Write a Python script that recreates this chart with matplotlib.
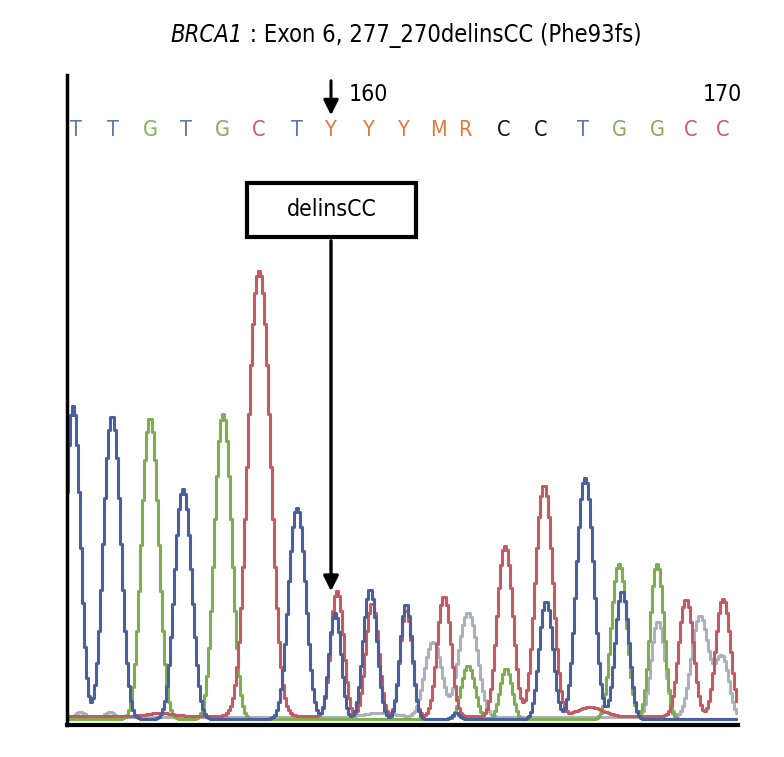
import numpy as np
import matplotlib.pyplot as plt
from matplotlib.patches import Rectangle

plt.rcParams['font.family'] = ['DejaVu Sans']
plt.rcParams['font.stretch'] = 'condensed'

# base calls shown above the trace, with their positions along the read
bases = ['T', 'T', 'G', 'T', 'G', 'C', 'T', 'Y', 'Y', 'Y', 'M', 'R', 'C', 'C', 'T', 'G', 'G', 'C', 'C']
base_pos = [76, 113, 150, 186, 222, 259, 297, 331, 369, 404, 438, 465, 504, 541, 583, 619, 657, 691, 723]
base_col = ['#5b78a8', '#5b78a8', '#7fae5c', '#5b78a8', '#7fae5c', '#c4606a', '#5b78a8',
            '#e07a3a', '#e07a3a', '#e07a3a', '#e07a3a', '#e07a3a', '#111111', '#111111',
            '#5b78a8', '#7fae5c', '#7fae5c', '#c4606a', '#c4606a']

# peaks: position, height, half width at half height
t_pos = [73, 112, 183, 297, 335, 370, 406, 456, 546, 585, 622]
t_amp = [313, 303, 230, 211, 106, 130, 115, 6, 118, 241, 128]
t_hw = [8.5, 10, 10, 10, 7, 8, 7, 4, 8, 10, 8]

g_pos = [150, 223, 468, 506, 619, 657]
g_amp = [301, 305, 53, 50, 155, 155]
g_hw = [10, 10, 8, 7, 9, 8]

c_pos = [160, 259, 337, 372, 406, 444, 505, 544, 590, 686, 723]
c_amp = [3, 445, 125, 113, 106, 120, 170, 231, 9, 117, 117]
c_hw = [15, 13, 7.5, 7.5, 7, 8, 9, 10, 15, 8.5, 8.5]

a_pos = [80, 110, 380, 433, 468, 658, 700, 722]
a_amp = [5, 5, 4, 75, 104, 96, 101, 60]
a_hw = [5, 5, 20, 10, 11, 8, 10, 8]

x = np.arange(67, 738, 2.0)


def trace(pos, amp, hw, base):
    y = np.full_like(x, base)
    for p, a, h in zip(pos, amp, hw):
        w = h / np.log(2) ** (1 / 2.2)
        y = y + a * np.exp(-np.abs((x - p) / w) ** 2.2)
    return y


fig = plt.figure(figsize=(7.84, 7.57), dpi=100)
ax = fig.add_axes([67 / 784, 32 / 757, 671 / 784, 650 / 757])
ax.set_xlim(67, 738)
ax.set_ylim(0, 650)

ax.plot(x, trace(a_pos, a_amp, a_hw, 8), color='#a9b1bc', lw=2.2, drawstyle='steps-mid')
ax.plot(x, trace(g_pos, g_amp, g_hw, 6), color='#7daf4f', lw=2.2, drawstyle='steps-mid')
ax.plot(x, trace(c_pos, c_amp, c_hw, 9), color='#c45a62', lw=2.2, drawstyle='steps-mid')
ax.plot(x, trace(t_pos, t_amp, t_hw, 6), color='#4a609c', lw=2.2, drawstyle='steps-mid')

for b, p, c in zip(bases, base_pos, base_col):
    ax.text(p, 595, b, color=c, fontsize=15.5, ha='center', va='center')

ax.text(368, 630, '160', fontsize=16.5, ha='center', va='center')
ax.text(722, 630, '170', fontsize=16.5, ha='center', va='center')
ax.annotate('', xy=(331, 607), xytext=(331, 647), annotation_clip=False,
            arrowprops=dict(arrowstyle='-|>,head_width=0.45,head_length=0.9', color='black', lw=2.2))

ax.add_patch(Rectangle((247, 488), 169, 54, fc='white', ec='black', lw=3))
ax.text(331.5, 515, 'delinsCC', fontsize=16.5, ha='center', va='center')
ax.annotate('', xy=(331, 131), xytext=(331, 487),
            arrowprops=dict(arrowstyle='-|>,head_width=0.45,head_length=0.9', color='black', lw=2.4))

fig.text(243 / 784, 1 - 35 / 757, 'BRCA1', style='italic', fontsize=17, ha='right', va='center')
fig.text(243 / 784, 1 - 35 / 757, ' : Exon 6, 277_270delinsCC (Phe93fs)', fontsize=17, ha='left', va='center')

for s in ['top', 'right']:
    ax.spines[s].set_visible(False)
ax.spines['left'].set_linewidth(2.5)
ax.spines['bottom'].set_linewidth(3)
ax.set_xticks([])
ax.set_yticks([])

fig.savefig('out.png', dpi=100)
